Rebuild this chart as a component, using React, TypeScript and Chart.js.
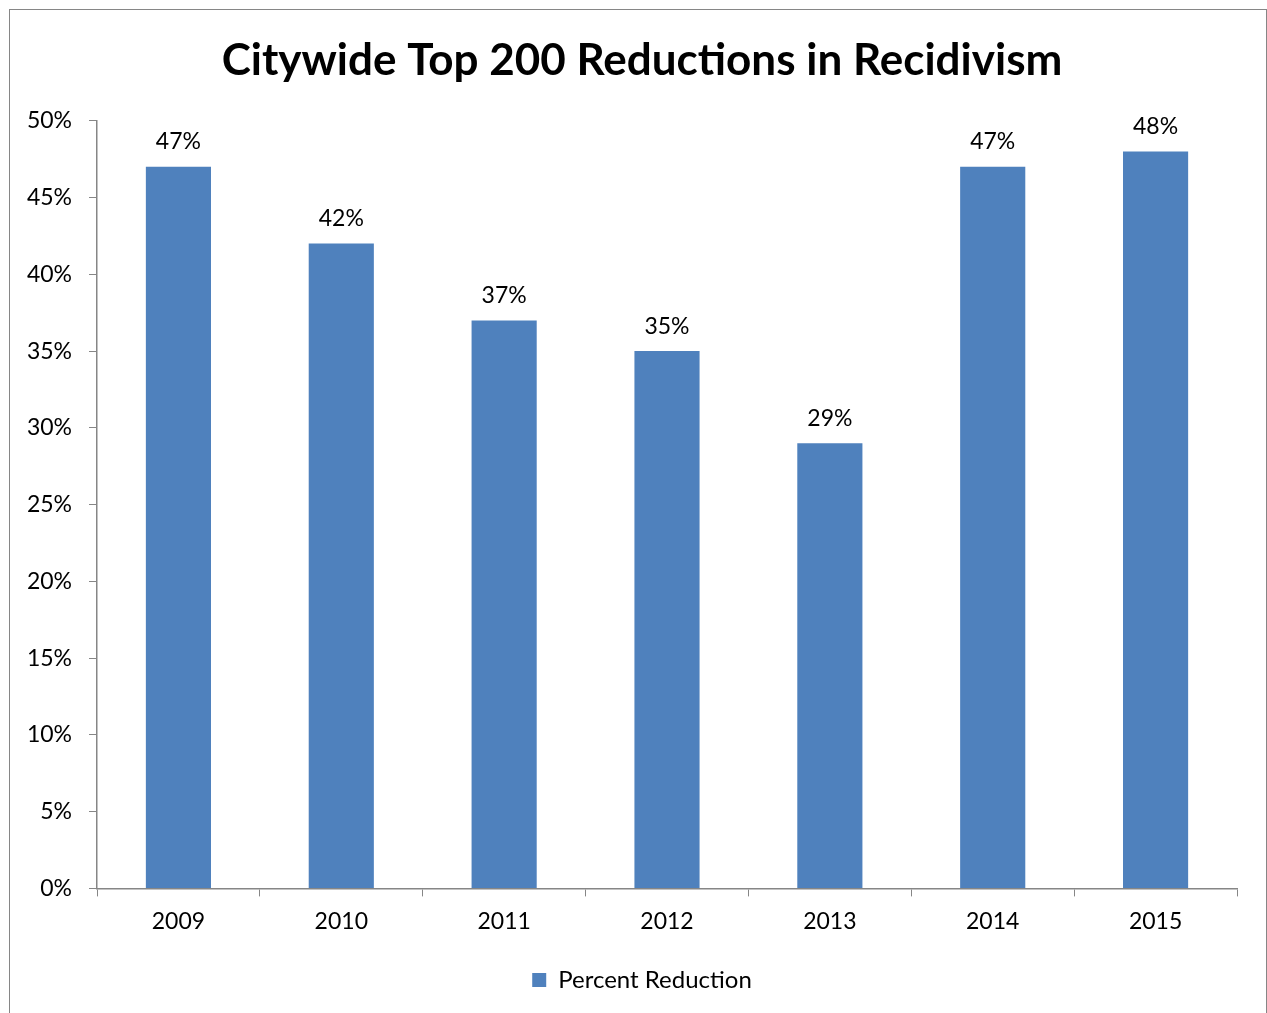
import React, { useEffect, useRef } from "react";
import { Chart, registerables } from "chart.js";

Chart.register(...registerables);

const TITLE = "Citywide Top 200 Reductions in Recidivism";
const years = ["2009", "2010", "2011", "2012", "2013", "2014", "2015"];
const percentReduction = [47, 42, 37, 35, 29, 47, 48];
const seriesName = "Percent Reduction";
const yMin = 0;
const yMax = 50;
const yStep = 5;

const FONT = "Lato, 'Open Sans', sans-serif";
const BAR = "#4F81BD";
const AXIS = "#868686";
const fmtPct = (v: number) => `${v}%`;

const valueLabels = {
  id: "valueLabels",
  afterDatasetsDraw(chart: any) {
    const ctx = chart.ctx;
    const meta = chart.getDatasetMeta(0);
    const ds = chart.data.datasets[0];
    ctx.save();
    ctx.font = `23px ${FONT}`;
    ctx.fillStyle = "#000";
    ctx.textAlign = "center";
    ctx.textBaseline = "middle";
    meta.data.forEach((el: any, i: number) => {
      ctx.fillText(fmtPct(ds.data[i]), el.x, el.y - 25);
    });
    ctx.restore();
  },
};

// y tick labels drawn outside the (narrow) scale box so they are not clipped
const yTickLabels = {
  id: "yTickLabels",
  afterDraw(chart: any) {
    const scale = chart.scales.y;
    const ctx = chart.ctx;
    ctx.save();
    ctx.font = `23px ${FONT}`;
    ctx.fillStyle = "#000";
    ctx.textAlign = "right";
    ctx.textBaseline = "middle";
    scale.ticks.forEach((t: any) => {
      ctx.fillText(fmtPct(t.value), scale.right - 8 - 17, scale.getPixelForValue(t.value));
    });
    ctx.restore();
  },
};

export default function App() {
  const ref = useRef<HTMLCanvasElement | null>(null);
  useEffect(() => {
    if (!ref.current) return;
    const chart = new Chart(ref.current, {
      type: "bar",
      data: {
        labels: years,
        datasets: [
          {
            label: seriesName,
            data: percentReduction,
            backgroundColor: BAR,
            borderWidth: 0,
            barPercentage: 0.4,
            categoryPercentage: 1,
          },
        ],
      },
      options: {
        responsive: false,
        animation: false,
        devicePixelRatio: 1,
        layout: { padding: { left: 47, right: 30, top: 0, bottom: 11 } },
        plugins: {
          title: {
            display: true,
            text: TITLE,
            color: "#000",
            font: { family: FONT, size: 44, weight: "bold" },
            padding: { top: 34, bottom: 34 },
          },
          legend: {
            display: true,
            position: "bottom",
            labels: {
              color: "#000",
              font: { family: FONT, size: 24 },
              boxWidth: 14,
              boxHeight: 14,
              padding: 10,
            },
          },
          tooltip: { enabled: false },
        },
        scales: {
          x: {
            offset: true,
            grid: {
              offset: true,
              drawOnChartArea: false,
              drawTicks: true,
              tickLength: 8,
              color: AXIS,
            },
            border: { display: true, color: AXIS, width: 1.5 },
            ticks: {
              color: "#000",
              font: { family: FONT, size: 23 },
              padding: 11,
            },
            afterFit: (scale: any) => {
              scale.height += 12;
            },
          },
          y: {
            min: yMin,
            max: yMax,
            grid: {
              drawOnChartArea: false,
              drawTicks: true,
              tickLength: 8,
              color: AXIS,
            },
            border: { display: true, color: AXIS, width: 1.5 },
            ticks: {
              display: false,
              stepSize: yStep,
              callback: (v: any) => fmtPct(v),
            },
            afterFit: (scale: any) => {
              scale.width = 50;
            },
          },
        },
      },
      plugins: [valueLabels, yTickLabels],
    });
    return () => chart.destroy();
  }, []);

  return (
    <div style={{ position: "absolute", left: 0, top: 0, width: 1267, height: 1013, background: "#fff" }}>
      <canvas ref={ref} width={1267} height={1013} style={{ position: "absolute", left: 0, top: 0 }} />
      <div
        style={{
          position: "absolute",
          left: 9,
          top: 9,
          width: 1256,
          height: 1020,
          border: `1px solid ${AXIS}`,
          pointerEvents: "none",
        }}
      />
    </div>
  );
}
